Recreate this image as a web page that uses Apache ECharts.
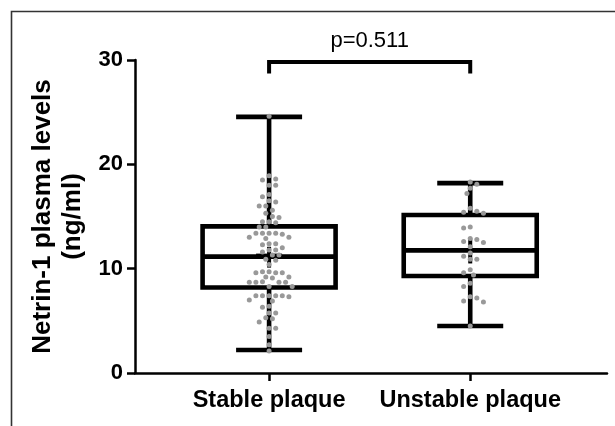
<!DOCTYPE html>
<html><head><meta charset="utf-8">
<script src="https://cdn.jsdelivr.net/npm/echarts@6/dist/echarts.min.js"></script>
<style>html,body{margin:0;padding:0;background:#fff}#c{width:615px;height:426px}</style>
</head><body><div id="c"></div>
<script>
// ---------- data ----------
const categories = ['Stable plaque', 'Unstable plaque'];
const yTicks = [0, 10, 20, 30];
// box statistics: min, q1, median, q3, max
const stableBox = [2.2, 8.2, 11.15, 14.05, 24.55];
const unstableBox = [4.5, 9.3, 11.75, 15.15, 18.2];
// overlay: low, centre mark, high
const stableCI = [10.1, 11.3, 12.1];
const unstableCI = [10.5, 11.75, 12.9];
const stableValues = [24.6, 18.9, 18.6, 18.5, 18.0, 18.0, 17.1, 16.9, 16.5, 16.4, 16.0, 16.0,
  15.6, 15.3, 15.0, 14.9, 14.5, 14.5, 14.4, 14.0, 14.0, 13.4, 13.4, 13.4, 13.4, 13.3, 13.0,
  12.9, 13.0, 12.4, 12.3, 12.4, 12.0, 11.8, 11.8, 11.6, 11.3, 11.3, 10.9, 10.8, 10.4, 9.6, 9.7,
  9.6, 9.7, 9.6, 9.2, 9.1, 9.2, 8.75, 8.7, 8.7, 8.7, 8.7, 8.3, 8.3, 7.4, 7.4, 7.4, 7.3, 7.4,
  7.4, 7.0, 6.9, 6.4, 6.3, 5.75, 5.75, 5.3, 5.2, 4.9, 4.3, 4.3, 3.5, 2.7, 2.1];
const unstableValues = [18.3, 18.1, 17.7, 17.2, 15.8, 15.5, 15.3, 15.4, 14.0, 13.9, 12.9, 12.8,
  12.6, 12.5, 12.1, 11.5, 11.2, 10.9, 10.9, 9.9, 9.6, 9.4, 8.6, 8.3, 7.3, 7.2, 6.9, 6.8, 4.5];
const pValueText = 'p=0.511';
const bracketLevels = [29.8, 28.7]; // top, end

// ---------- style ----------
const FONT = '"Liberation Sans", Arial, sans-serif';
const LW = 4.6, BOX_W = 133, CAP_W = 66, CI_W = 26;
const DOT_R = 2.5, DOT_STEP = 3.3, DOT_MIN = 5.6;

const chart = echarts.init(document.getElementById('c'));

function seg(x1, y1, x2, y2, w) {
  return { type: 'line', shape: { x1, y1, x2, y2 }, style: { stroke: '#000', lineWidth: w || LW } };
}
function renderBox(params, api) {
  const x = api.value(0);
  const v = [1, 2, 3, 4, 5, 6, 7, 8].map(i => api.value(i));
  const [mn, q1, md, q3, mx, cl, cm, ch] = v;
  const Y = val => api.coord([x, val])[1];
  const px = api.coord([x, md])[0];
  const hb = BOX_W / 2, hc = CAP_W / 2, hm = CI_W / 2;
  return {
    type: 'group',
    children: [
      seg(px, Y(mx), px, Y(q3)),
      seg(px, Y(q1), px, Y(mn)),
      seg(px - hc, Y(mx), px + hc, Y(mx)),
      seg(px - hc, Y(mn), px + hc, Y(mn)),
      { type: 'rect', shape: { x: px - hb, y: Y(q3), width: 2 * hb, height: Y(q1) - Y(q3) },
        style: { stroke: '#000', lineWidth: LW, fill: 'transparent' } },
      seg(px - hb, Y(md), px + hb, Y(md)),
      seg(px, Y(ch), px, Y(cl), 4),
      seg(px - hm, Y(cm), px + hm, Y(cm), 3)
    ]
  };
}

function layoutDots(values, xc, api) {
  const order = values.map((v, i) => i).sort((a, b) => values[b] - values[a]);
  const placed = [];
  const out = new Array(values.length);
  const cx = api.coord([xc, 0])[0];
  let flip = 1;
  order.forEach(i => {
    const y = api.coord([xc, values[i]])[1];
    for (let k = 0; k < 60; k++) {
      const cands = k === 0 ? [0] : [flip * k, -flip * k];
      let ok = null;
      for (const m of cands) {
        const x = cx + m * DOT_STEP;
        if (placed.every(p => Math.hypot(p[0] - x, p[1] - y) >= DOT_MIN)) { ok = x; break; }
      }
      if (ok !== null) { out[i] = [ok, y]; placed.push([ok, y]); if (k > 0) flip = -flip; break; }
    }
  });
  return out;
}
function dotRenderer(values, xc) {
  let cache = null, key = null;
  return function (params, api) {
    const k = api.coord([xc, 0]).join(',') + '|' + api.coord([xc + 1, 30]).join(',');
    if (k !== key) { cache = layoutDots(values, xc, api); key = k; }
    const p = cache[params.dataIndex];
    return { type: 'circle', shape: { cx: p[0], cy: p[1], r: DOT_R }, style: { fill: '#999999' } };
  };
}

const option = {
  animation: false,
  backgroundColor: '#fff',
  grid: { left: 135, right: 8, top: 60, bottom: 53, containLabel: false },
  xAxis: {
    type: 'value', min: 1 / 3, max: 2.68,
    axisLine: { show: true, onZero: false, lineStyle: { color: '#000', width: 2.5 } },
    axisTick: { show: true, customValues: [1, 2], length: 8, lineStyle: { color: '#000', width: 2.5 } },
    axisLabel: { show: true, customValues: [1, 2], formatter: v => categories[Math.round(v) - 1] || '',
      fontSize: 23.5, fontWeight: 'bold', color: '#000', fontFamily: FONT, margin: 16 },
    splitLine: { show: false }
  },
  yAxis: {
    type: 'value', min: yTicks[0], max: yTicks[yTicks.length - 1], interval: 10,
    name: 'Netrin-1 plasma levels\n(ng/ml)', nameLocation: 'middle', nameGap: 47,
    nameTextStyle: { fontSize: 26, fontWeight: 'bold', color: '#000', fontFamily: FONT, lineHeight: 30 },
    axisLine: { show: true, lineStyle: { color: '#000', width: 2.5 } },
    axisTick: { show: true, length: 8, lineStyle: { color: '#000', width: 2.5 } },
    axisLabel: { fontSize: 22, fontWeight: 'bold', color: '#000', fontFamily: FONT, margin: 12 },
    splitLine: { show: false }
  },
  graphic: [{
    type: 'rect', silent: true, z: -1,
    shape: { x: 11.5, y: 11.5, width: 700, height: 500 },
    style: { stroke: '#333', lineWidth: 1.6, fill: 'transparent' }
  }],
  series: [
    {
      type: 'custom', name: 'box', clip: false, z: 2,
      renderItem: renderBox,
      data: [[1, ...stableBox, ...stableCI], [2, ...unstableBox, ...unstableCI]]
    },
    {
      type: 'custom', name: categories[0], clip: false, z: 3,
      renderItem: dotRenderer(stableValues, 1),
      data: stableValues.map(v => [1, v])
    },
    {
      type: 'custom', name: categories[1], clip: false, z: 3,
      renderItem: dotRenderer(unstableValues, 2),
      data: unstableValues.map(v => [2, v])
    },
    {
      type: 'custom', name: 'bracket', clip: false, z: 4,
      renderItem: function (params, api) {
        const a = api.coord([1, bracketLevels[1]]), b = api.coord([1, bracketLevels[0]]);
        const c = api.coord([2, bracketLevels[0]]), d = api.coord([2, bracketLevels[1]]);
        return {
          type: 'group', children: [
            { type: 'polyline', shape: { points: [a, b, c, d] }, style: { stroke: '#000', lineWidth: 4, fill: null } },
            { type: 'text', x: (b[0] + c[0]) / 2, y: b[1] - 21,
              style: { text: pValueText, fill: '#000', fontSize: 22, fontFamily: FONT, align: 'center', verticalAlign: 'middle' } }
          ]
        };
      },
      data: [[1.5, 30]]
    }
  ]
};
chart.setOption(option);
</script></body></html>
